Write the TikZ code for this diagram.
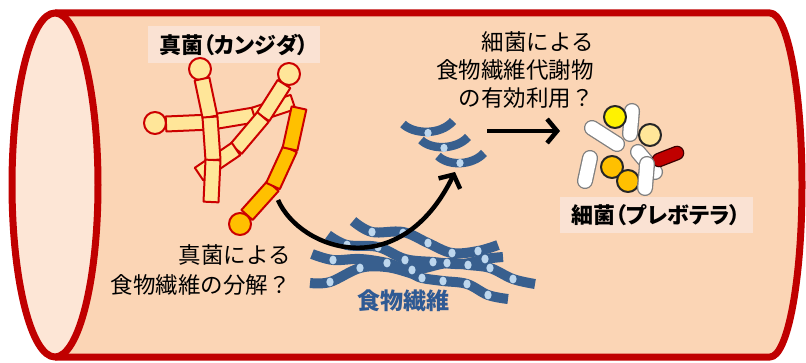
\documentclass[tikz,border=0pt]{standalone}
\usepackage{fontspec}
\newfontfamily\jp{Noto Sans CJK JP}
\newfontfamily\jpprop[RawFeature=+palt]{Noto Sans CJK JP}
\usetikzlibrary{arrows.meta,calc}
\definecolor{tubered}{HTML}{C00000}
\definecolor{tubefill}{HTML}{FBD5B5}
\definecolor{tubeend}{HTML}{FDE6D6}
\definecolor{labelbox}{HTML}{FAE2D3}
\definecolor{hyphayellow}{HTML}{FFE699}
\definecolor{hyphaorange}{HTML}{FFC000}
\definecolor{cellred}{HTML}{CC0000}
\definecolor{fiberblue}{HTML}{385F8E}
\definecolor{dotblue}{HTML}{BDD7EE}
\definecolor{fibertext}{HTML}{2F5A94}
\definecolor{rodgray}{HTML}{7F7F7F}

\begin{document}
\begin{tikzpicture}[
  x=1pt,
  y=-1pt,
  line join=round,
  tube/.style={draw=tubered,line width=7pt},
  cellyellow/.style={fill=hyphayellow,draw=cellred,line width=2pt},
  cellorange/.style={fill=hyphaorange,draw=cellred,line width=2pt},
  fiber/.style={draw=fiberblue,line width=10pt},
  fragment/.style={draw=fiberblue,line width=8.5pt},
  knot/.style={fill=dotblue},
  rod/.style={draw=rodgray,line width=1.3pt,double=white,double distance=13.5pt,line cap=round},
  redrod/.style={draw=black!70!tubered,line width=1.3pt,double=tubered,double distance=12pt,line cap=round},
  coccus/.style={draw=black!85,line width=2pt},
  title/.style={fill=labelbox,inner sep=0pt,font=\jpprop\bfseries\fontsize{22}{26}\selectfont},
  note/.style={align=right,inner sep=0pt},
  flow/.style={draw=black,line width=4.5pt,-{Straight Barb[length=10pt,width=24pt]}}
]
  \useasboundingbox (0,0) rectangle (806,363);

  % Intestine tube: body with a rounded far end, open near end as an ellipse.
  \fill[tubefill] (55,13) -- (770,13)
    arc[start angle=90,end angle=-90,x radius=32pt,y radius=172pt] -- (55,357) -- cycle;
  \draw[tube] (55,13) -- (770,13)
    arc[start angle=90,end angle=-90,x radius=32pt,y radius=172pt] -- (55,357);
  \draw[tube,fill=tubeend] (55,185) ellipse[x radius=43pt,y radius=172pt];

  % Labels of the two organisms.
  \node[title,minimum width=172pt,minimum height=37pt] (candida) at (234,44.5) {真菌（カンジダ）};
  \node[title,minimum width=193pt,minimum height=36pt] (prevotella) at (656,215) {細菌（プレボテラ）};

  % Hypha joints.
  \coordinate (h0) at (155,123);
  \coordinate (h1) at (166,124);
  \coordinate (h2) at (212,122);
  \coordinate (h3) at (254,115);
  \coordinate (h4) at (293,102);
  \coordinate (d0) at (289,74);
  \coordinate (d1) at (284,84);
  \coordinate (d2) at (263,117);
  \coordinate (d3) at (236,149);
  \coordinate (d4) at (199,174);
  \coordinate (v0) at (200,69);
  \coordinate (v1) at (202,79);
  \coordinate (v2) at (210,117);
  \coordinate (v3) at (213,160);
  \coordinate (v4) at (211,202);
  \coordinate (o0) at (240,224);
  \coordinate (o1) at (247,215);
  \coordinate (o2) at (273,186);
  \coordinate (o3) at (290,149);
  \coordinate (o4) at (299,108);

  % Candida: branch, diagonal and main hypha in yellow, young hypha in orange.
  \draw[cellyellow] (h0) circle[radius=11pt];
  \foreach \a/\b in {h1/h2,h2/h3,h3/h4} {
    \draw[cellyellow] ($(\a)!7.5pt!90:(\b)$) -- ($(\a)!7.5pt!-90:(\b)$)
      -- ($(\b)!7.5pt!90:(\a)$) -- ($(\b)!7.5pt!-90:(\a)$) -- cycle;
  }
  \draw[cellyellow] (d0) circle[radius=11pt];
  \foreach \a/\b in {d1/d2,d2/d3,d3/d4} {
    \draw[cellyellow] ($(\a)!7.5pt!90:(\b)$) -- ($(\a)!7.5pt!-90:(\b)$)
      -- ($(\b)!7.5pt!90:(\a)$) -- ($(\b)!7.5pt!-90:(\a)$) -- cycle;
  }
  \draw[cellyellow] (v0) circle[radius=11pt];
  \foreach \a/\b in {v1/v2,v2/v3,v3/v4} {
    \draw[cellyellow] ($(\a)!7.5pt!90:(\b)$) -- ($(\a)!7.5pt!-90:(\b)$)
      -- ($(\b)!7.5pt!90:(\a)$) -- ($(\b)!7.5pt!-90:(\a)$) -- cycle;
  }
  \foreach \a/\b in {o1/o2,o2/o3,o3/o4} {
    \draw[cellorange] ($(\a)!7.5pt!90:(\b)$) -- ($(\a)!7.5pt!-90:(\b)$)
      -- ($(\b)!7.5pt!90:(\a)$) -- ($(\b)!7.5pt!-90:(\a)$) -- cycle;
  }
  \draw[cellorange] (o0) circle[radius=11pt];

  % Dietary fibre bundle.
  \draw[fiber] plot[smooth,tension=0.6] coordinates {(353,221) (372,232) (403,232) (428,243) (452,253) (478,251) (498,245)};
  \draw[fiber] plot[smooth,tension=0.6] coordinates {(328,235) (347,245) (378,247) (405,259) (433,262) (462,264) (485,259) (503,257)};
  \draw[fiber] plot[smooth,tension=0.6] coordinates {(312,254) (333,260) (360,259) (387,263) (412,270) (447,263) (468,265) (490,268) (513,279) (535,284)};
  \draw[fiber] plot[smooth,tension=0.6] coordinates {(310,283) (330,282) (360,268) (386,267) (410,273) (422,278) (443,281) (467,284) (488,295) (508,299)};
  \foreach \p in {(372,232),(403,233),(428,243),(452,253),(478,251),
                  (347,245),(378,247),(405,260),(433,262),(485,259),
                  (333,260),(387,263),(412,270),(447,263),(468,265),(490,268),(513,279),
                  (330,282),(360,268),(422,278),(443,281),(467,284),(488,295)} {
    \fill[knot] \p ellipse[x radius=3.6pt,y radius=4.4pt];
  }
  \node[font=\jp\bfseries\fontsize{23}{26}\selectfont,text=fibertext] (fibre) at (403,301) {食物繊維};

  % Short fragments left after breakdown.
  \draw[fragment] (403,124) .. controls (413,134) and (440,136) .. (453,121);
  \draw[fragment] (421,140) .. controls (431,150) and (456,150) .. (468,137);
  \draw[fragment] (438,156) .. controls (448,166) and (472,166) .. (484,153);
  \foreach \p in {(428,133),(444,148),(460,163)} {
    \fill[knot] \p ellipse[x radius=3.6pt,y radius=4.2pt];
  }

  % Prevotella: rods and cocci.
  \draw[rod] (632,111) -- (630,134);
  \draw[rod] (592,128) -- (617,144);
  \draw[coccus,fill=yellow] (615,117) circle[radius=11pt];
  \draw[rod] (638,152) -- (655,172);
  \draw[coccus,fill=hyphayellow] (650,135) circle[radius=11pt];
  \draw[redrod] (659,160) -- (677,153);
  \draw[rod] (590,158) -- (585,181);
  \draw[coccus,fill=hyphaorange] (612,167) circle[radius=11pt];
  \draw[coccus,fill=hyphaorange] (628,181) circle[radius=11pt];
  \draw[rod] (647,164) -- (645,188);

  % Questions.
  \node[note,anchor=east,font=\jp\fontsize{22.5}{30}\selectfont] (breakdown) at (291,270) {真菌による\\食物繊維の分解？};
  \node[note,anchor=east,font=\jp\fontsize{22.5}{28}\selectfont] (uptake) at (594,70) {細菌による\\食物繊維代謝物\\の有効利用？};

  % Arrows.
  \coordinate (hyphaend) at (278,200);
  \coordinate (fragtip) at (455,172);
  \coordinate (metstart) at (487,131);
  \coordinate (metend) at (560,131);
  \draw[flow] (hyphaend) .. controls (300,250) and (400,285) .. (fragtip);
  \draw[flow] (metstart) -- (metend);
\end{tikzpicture}
\end{document}
